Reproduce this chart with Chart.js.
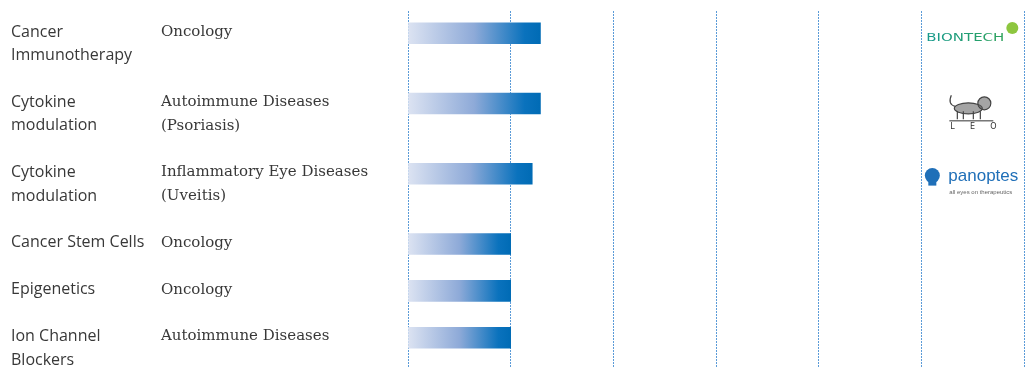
<!DOCTYPE html>
<html>
<head>
<meta charset="utf-8">
<script src="https://cdn.jsdelivr.net/npm/chart.js@4"></script>
<style>
  html, body { margin: 0; padding: 0; background: #fff; }
  #wrap { width: 1027px; height: 367px; }
</style>
</head>
<body>
<div id="wrap"><canvas id="pipeline"></canvas></div>
<script>
// rows of the pipeline
const targets = [['Cancer', 'Immunotherapy'], ['Cytokine', 'modulation'], ['Cytokine', 'modulation'],
  ['Cancer Stem Cells'], ['Epigenetics'], ['Ion Channel', 'Blockers']];
const indications = [['Oncology'], ['Autoimmune Diseases', '(Psoriasis)'], ['Inflammatory Eye Diseases', '(Uveitis)'],
  ['Oncology'], ['Oncology'], ['Autoimmune Diseases']];
// progress in phase columns
const progress = [1.29, 1.29, 1.21, 1.0, 1.0, 1.0];
const partners = ['BioNTech', 'LEO', 'panoptes', '', '', ''];
const phaseCount = 6;

// each row takes its text lines plus one blank line
const rowLine = [];
let acc = 0;
targets.forEach((t, i) => {
  rowLine.push(acc);
  acc += Math.max(t.length, indications[i].length) + 1;
});

const textColor = '#383838';

// left hand text columns
const labelPlugin = {
  id: 'rowLabels',
  afterDraw(chart) {
    const ctx = chart.ctx;
    const ys = chart.scales.y;
    ctx.save();
    ctx.fillStyle = textColor;
    ctx.textBaseline = 'middle';
    ctx.textAlign = 'left';
    targets.forEach((lines, i) => {
      ctx.font = '16px "Open Sans"';
      lines.forEach((s, k) => ctx.fillText(s, 11, ys.getPixelForValue(rowLine[i] + k)));
      ctx.font = '15px "DejaVu Serif"';
      indications[i].forEach((s, k) => ctx.fillText(s, 161, ys.getPixelForValue(rowLine[i] + k)));
    });
    ctx.restore();
  }
};

// rough lion mark for LEO
function drawLion(ctx, x, y) {
  ctx.save();
  ctx.strokeStyle = '#444';
  ctx.fillStyle = 'rgba(90,90,90,0.55)';
  ctx.lineWidth = 1.2;
  ctx.beginPath();
  ctx.ellipse(x + 47, y + 6, 14, 5.5, 0, 0, Math.PI * 2);
  ctx.fill();
  ctx.stroke();
  ctx.beginPath();
  ctx.arc(x + 63, y + 1, 6.5, 0, Math.PI * 2);
  ctx.fill();
  ctx.stroke();
  ctx.beginPath();
  [36, 42, 52, 59].forEach(lx => { ctx.moveTo(x + lx, y + 9); ctx.lineTo(x + lx, y + 17); });
  ctx.moveTo(x + 34, y + 4);
  ctx.quadraticCurveTo(x + 26, y + 2, x + 30, y - 7);
  ctx.stroke();
  ctx.fillStyle = '#333';
  ctx.fillRect(x + 28, y + 18, 44, 1);
  ctx.font = '8px "DejaVu Sans"';
  ctx.textBaseline = 'middle';
  ctx.fillText('L      E      O', x + 29, y + 25);
  ctx.restore();
}

// partner marks in the last column
const partnerPlugin = {
  id: 'partners',
  afterDraw(chart) {
    const ctx = chart.ctx;
    const ys = chart.scales.y;
    const xs = chart.scales.x;
    const x0 = xs.getPixelForValue(phaseCount - 1);
    ctx.save();
    ctx.textBaseline = 'middle';
    partners.forEach((p, i) => {
      const y = ys.getPixelForValue(rowLine[i]);
      if (p === 'BioNTech') {
        ctx.save();
        ctx.font = '11px "DejaVu Sans"';
        const w = ctx.measureText('BIONTECH').width;
        ctx.translate(x0 + 5, y + 6);
        ctx.scale(78 / w, 1);
        const g = ctx.createLinearGradient(0, 0, w, 0);
        g.addColorStop(0, '#179a8e');
        g.addColorStop(1, '#2ea35c');
        ctx.fillStyle = g;
        ctx.fillText('BIONTECH', 0, 0);
        ctx.restore();
        ctx.fillStyle = '#8dc63f';
        ctx.beginPath();
        ctx.arc(x0 + 91, y - 4, 6, 0, Math.PI * 2);
        ctx.fill();
      } else if (p === 'LEO') {
        drawLion(ctx, x0, y);
      } else if (p === 'panoptes') {
        ctx.fillStyle = '#1f6fb8';
        ctx.beginPath();
        ctx.arc(x0 + 11, y + 3, 7.5, 0, Math.PI * 2);
        ctx.fill();
        ctx.fillRect(x0 + 7, y + 8, 8, 5);
        ctx.font = '17px "Liberation Sans"';
        ctx.fillText('panoptes', x0 + 27, y + 4);
        ctx.font = '6px "Liberation Sans"';
        ctx.fillStyle = '#666';
        ctx.fillText('all eyes on therapeutics', x0 + 28, y + 20);
      }
    });
    ctx.restore();
  }
};

function barGradient(c) {
  const chart = c.chart;
  const xs = chart.scales.x;
  if (c.type !== 'data' || !xs) return '#0070c0';
  const a = xs.getPixelForValue(0);
  const b = xs.getPixelForValue(progress[c.dataIndex]);
  if (!isFinite(a) || !isFinite(b) || a === b) return '#0070c0';
  const g = chart.ctx.createLinearGradient(a, 0, b, 0);
  g.addColorStop(0, '#dce3f2');
  g.addColorStop(0.5, '#8eaad8');
  g.addColorStop(0.88, '#0a72bd');
  g.addColorStop(1, '#006bb5');
  return g;
}

new Chart(document.getElementById('pipeline'), {
  type: 'bar',
  data: {
    datasets: [{
      data: progress.map((v, i) => ({ x: [0, v], y: rowLine[i] + 0.05 })),
      backgroundColor: barGradient,
      borderWidth: 0,
      barThickness: 21
    }]
  },
  options: {
    indexAxis: 'y',
    responsive: true,
    maintainAspectRatio: false,
    animation: false,
    layout: { padding: { left: 408, right: 3, top: 11, bottom: 0 } },
    plugins: { legend: { display: false }, tooltip: { enabled: false } },
    scales: {
      x: {
        type: 'linear',
        min: 0,
        max: phaseCount,
        ticks: { display: false, stepSize: 1 },
        border: { display: false, dash: [2, 1] },
        grid: { color: '#5b9bd8', lineWidth: 1, drawTicks: false }
      },
      y: {
        type: 'linear',
        reverse: true,
        offset: false,
        min: -0.9,
        max: 14.3,
        display: false
      }
    }
  },
  plugins: [labelPlugin, partnerPlugin]
});
</script>
</body>
</html>
